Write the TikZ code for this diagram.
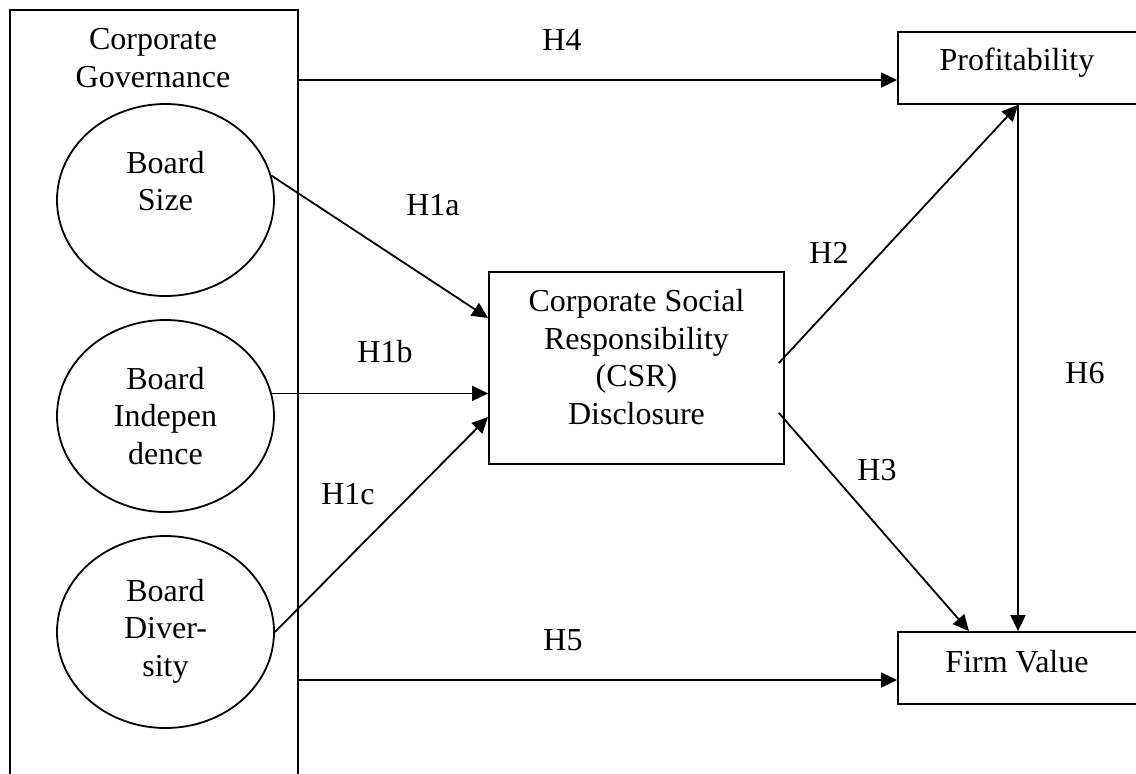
\documentclass[tikz,border=0pt]{standalone}
\usepackage{fontspec}
\setmainfont{Liberation Serif}
\usetikzlibrary{arrows.meta,shapes.geometric}
\begin{document}
\begin{tikzpicture}[x=0.5pt,y=-0.5pt,
  every node/.style={font=\fontsize{16pt}{18.75pt}\selectfont, inner sep=0pt},
  box/.style={draw, line width=0.9pt, rectangle},
  oval/.style={draw, line width=0.9pt, ellipse, minimum width=108.5pt, minimum height=96pt},
  txt/.style={align=center},
  arr/.style={line width=0.9pt, -{Triangle[length=8pt,width=7.5pt]}}]
\useasboundingbox (0,0) rectangle (1136,773);
\clip (0,0) rectangle (1136,773);
% outer governance box
\node[box, anchor=north west, minimum width=144pt, minimum height=400pt] (cg) at (9,9) {};
\node[txt] (cgt) at (153,58) {Corporate\\Governance};
% ellipses
\node[oval] (bs) at (165.5,200) {};
\node[txt] (bst) at (165.5,181) {Board\\Size};
\node[oval] (bi) at (165.5,416) {};
\node[txt] (bit) at (165.5,416) {Board\\Indepen\\dence};
\node[oval] (bd) at (165.5,632) {};
\node[txt] (bdt) at (165.5,631) {Board\\Diver-\\sity};
% CSR box
\node[box, minimum width=147.5pt, minimum height=96pt] (csr) at (636.5,368) {};
\node[txt] (csrt) at (636.5,357) {Corporate Social\\Responsibility\\(CSR)\\Disclosure};
% right boxes
\node[box, minimum width=120pt, minimum height=36pt] (prof) at (1018,68) {};
\node[txt] (proft) at (1017,63) {Profitability};
\node[box, minimum width=120pt, minimum height=36pt] (fv) at (1018,668) {};
\node[txt] (fvt) at (1017,662) {Firm Value};
% connectors
\draw[arr] (cg.east |- 0,80) -- (prof.west |- 0,80);
\draw[arr] (cg.east |- 0,680) -- (fv.west |- 0,680);
\draw[arr] (bs.13) -- (csr.west |- 0,318);
\draw[arr] (bi.12) -- (csr.west |- bi.12);
\draw[arr] (bd.east) -- (csr.west |- 0,417);
\draw[arr] ([xshift=-3pt,yshift=2.5pt]csr.east) -- (prof.south);
\draw[arr] ([xshift=-3pt,yshift=-22.5pt]csr.east) -- ([xshift=-24.5pt]fv.north);
\draw[arr] (prof.south) -- (fv.north);
% labels
\node (h4) at (562,40) {H4};
\node (h5) at (563,640) {H5};
\node (h1a) at (433,205) {H1a};
\node (h1b) at (385,352) {H1b};
\node (h1c) at (348,494) {H1c};
\node (h2) at (829,253) {H2};
\node (h3) at (877,470) {H3};
\node (h6) at (1085,373) {H6};
\end{tikzpicture}
\end{document}
